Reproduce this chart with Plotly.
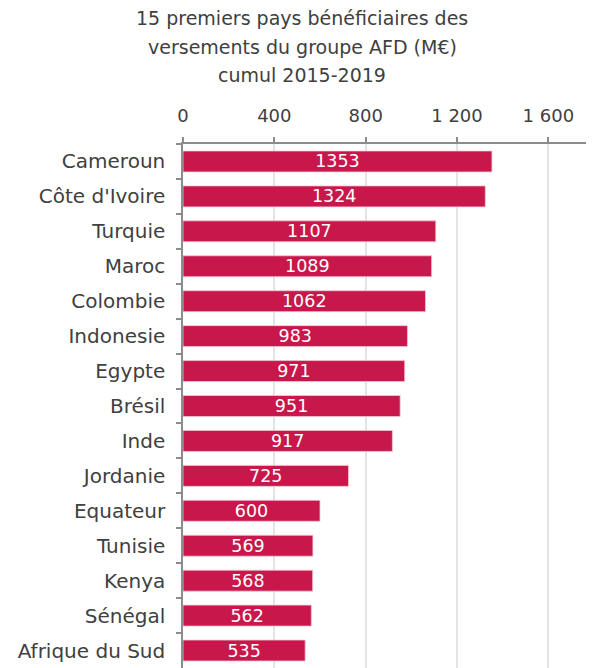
import plotly.graph_objects as go

countries = ["Cameroun", "Côte d'Ivoire", "Turquie", "Maroc", "Colombie", "Indonesie",
             "Egypte", "Brésil", "Inde", "Jordanie", "Equateur", "Tunisie", "Kenya",
             "Sénégal", "Afrique du Sud"]
values = [1353, 1324, 1107, 1089, 1062, 983, 971, 951, 917, 725, 600, 569, 568, 562, 535]
tick_vals = [0, 400, 800, 1200, 1600]
tick_text = ["0", "400", "800", "1 200", "1 600"]
title_lines = ["15 premiers pays bénéficiaires des",
               "versements du groupe AFD (M€)",
               "cumul 2015-2019"]

FONT = "DejaVu Sans"
TXT = "#404040"
W, H = 594, 668
OFF = 8  # page body offset
L, R, T, B = 183 - OFF, OFF, 144 - OFF, OFF
PW, PH = W - L - R, H - T - B

fig = go.Figure(go.Bar(
    x=values, y=countries, orientation="h",
    marker=dict(color="#C8174B", line=dict(color="#F3C6D3", width=0.8)),
    width=0.6,
    text=[str(v) for v in values], textposition="inside", insidetextanchor="middle",
    textfont=dict(color="white", size=17.5, family=FONT),
    constraintext="none",
))

for line, ypx in zip(title_lines, [18, 47, 75]):
    fig.add_annotation(text=line, xref="paper", yref="paper",
                       x=(302 - OFF - L) / PW, y=(H - B - (ypx - OFF)) / PH,
                       xanchor="center", yanchor="middle", showarrow=False,
                       font=dict(size=19, color=TXT, family=FONT))

fig.update_layout(
    width=W, height=H,
    margin=dict(l=L, r=R, t=T, b=B),
    paper_bgcolor="white", plot_bgcolor="white",
    showlegend=False,
    font=dict(family=FONT, color=TXT),
    xaxis=dict(side="top", range=[0, 1800], tickvals=tick_vals, ticktext=tick_text,
               showgrid=True, gridcolor="#E3E3E3", gridwidth=1.5,
               showline=True, linecolor="#8C8C8C", linewidth=1.5,
               ticks="outside", ticklen=5, tickcolor="#8C8C8C", tickwidth=1.5,
               tickfont=dict(size=18, color=TXT), zeroline=False, fixedrange=True,
               automargin=False, ticklabelstandoff=8),
    yaxis=dict(autorange="reversed", showline=True, linecolor="#8C8C8C", linewidth=1.5,
               ticks="outside", ticklen=5, tickcolor="#8C8C8C", tickwidth=1.5,
               tickson="boundaries", showgrid=False, automargin=False,
               tickfont=dict(size=20, color=TXT), ticklabelstandoff=12),
)

fig.write_html("out.html")
